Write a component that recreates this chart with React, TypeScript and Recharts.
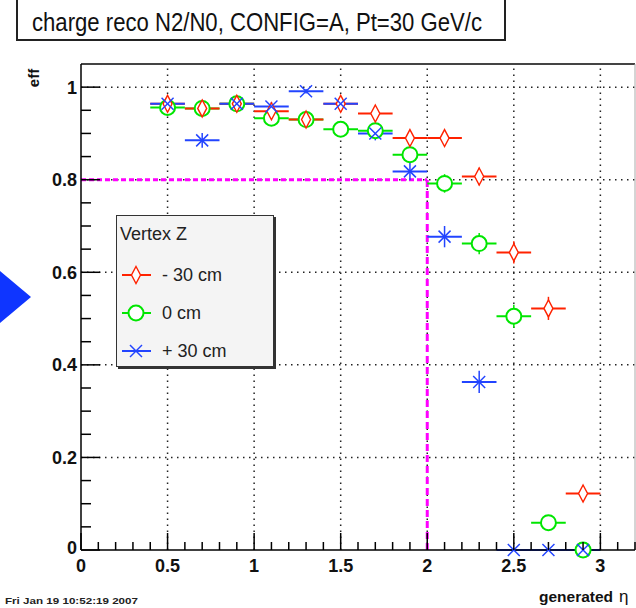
import { ScatterChart, Scatter, XAxis, YAxis, ReferenceLine, ErrorBar, Legend } from "recharts";

// —— bins in generated eta (bin width 0.2)
const etaBins = [0.5, 0.7, 0.9, 1.1, 1.3, 1.5, 1.7, 1.9, 2.1, 2.3, 2.5, 2.7, 2.9];
const binHalfWidth = 0.1;

// efficiency per vertex Z position
const effMinus30 = [0.964, 0.954, 0.964, 0.948, 0.93, 0.964, 0.943, 0.89, 0.89, 0.807, 0.643, 0.522, 0.122];
const errMinus30 = [0.009, 0.01, 0.009, 0.011, 0.012, 0.009, 0.011, 0.015, 0.015, 0.019, 0.024, 0.025, 0.016];
const effZero = [0.956, 0.954, 0.964, 0.933, 0.93, 0.909, 0.906, 0.854, 0.792, 0.662, 0.505, 0.059, 0];
const errZero = [0.01, 0.01, 0.009, 0.012, 0.012, 0.014, 0.014, 0.017, 0.02, 0.023, 0.025, 0.012, 0];
const effPlus30 = [0.964, 0.885, 0.964, 0.958, 0.991, 0.964, 0.9, 0.818, 0.677, 0.363, 0, 0, 0];
const errPlus30 = [0.009, 0.016, 0.009, 0.01, 0.005, 0.009, 0.015, 0.019, 0.023, 0.024, 0, 0, 0];

// axis ticks (ROOT style: majors labelled, minors unlabelled)
const xTicks = [0, 0.1, 0.2, 0.3, 0.4, 0.5, 0.6, 0.7, 0.8, 0.9, 1, 1.1, 1.2, 1.3, 1.4, 1.5, 1.6, 1.7, 1.8, 1.9, 2, 2.1, 2.2, 2.3, 2.4, 2.5, 2.6, 2.7, 2.8, 2.9, 3, 3.1, 3.2];
const xMajorTicks = [0, 0.5, 1, 1.5, 2, 2.5, 3];
const yTicks = [0, 0.05, 0.1, 0.15, 0.2, 0.25, 0.3, 0.35, 0.4, 0.45, 0.5, 0.55, 0.6, 0.65, 0.7, 0.75, 0.8, 0.85, 0.9, 0.95, 1];
const yMajorTicks = [0, 0.2, 0.4, 0.6, 0.8, 1];
const xGrid = [0.5, 1, 1.5, 2, 2.5, 3];
const yGrid = [0.2, 0.4, 0.6, 0.8, 1];

// the 80% / eta=2 cut box
const cutEta = 2;
const cutEff = 0.8;

const RED = "#ff2200";
const GREEN = "#00e600";
const BLUE = "#2244ff";
const MAGENTA = "#ff00ff";
const FONT = "'Liberation Sans', Arial, Helvetica, sans-serif";

const toPoints = (eff: number[], err: number[]) =>
  etaBins.map((x, i) => ({ x, y: eff[i], ex: binHalfWidth, ey: err[i] }));

type MarkerKind = "diamond" | "circle" | "star";

const Marker = ({ kind, cx, cy, color }: { kind: MarkerKind; cx: number; cy: number; color: string }) => {
  if (kind === "diamond") {
    return (
      <path
        d={`M${cx},${cy - 8.5} L${cx + 4.5},${cy} L${cx},${cy + 8.5} L${cx - 4.5},${cy} Z`}
        fill="#fff"
        stroke={color}
        strokeWidth={1.4}
      />
    );
  }
  if (kind === "circle") {
    return <circle cx={cx} cy={cy} r={7.5} fill="#fff" stroke={color} strokeWidth={2} />;
  }
  const h = 6;
  return (
    <g stroke={color} strokeWidth={1.5}>
      <line x1={cx - h} y1={cy - h} x2={cx + h} y2={cy + h} />
      <line x1={cx - h} y1={cy + h} x2={cx + h} y2={cy - h} />
    </g>
  );
};

// draw order: green first so the others stay visible on top
const series = [
  { name: "0 cm", kind: "circle" as MarkerKind, color: GREEN, data: toPoints(effZero, errZero) },
  { name: "- 30 cm", kind: "diamond" as MarkerKind, color: RED, data: toPoints(effMinus30, errMinus30) },
  { name: "+ 30 cm", kind: "star" as MarkerKind, color: BLUE, data: toPoints(effPlus30, errPlus30) },
];
const legendOrder = ["- 30 cm", "0 cm", "+ 30 cm"];

const fmt = (v: number) => (v === 0 ? "0" : v === 1 ? "1" : String(v));

const XTick = (props: any) => {
  const { x, y, payload } = props;
  const major = xMajorTicks.includes(payload.value);
  return (
    <g>
      <line x1={x} y1={y} x2={x} y2={y - (major ? 17 : 8)} stroke="#000" strokeWidth={1.5} />
      {major && (
        <text x={x} y={y + 22} textAnchor="middle" fontFamily={FONT} fontWeight="bold" fontSize={18} fill="#111">
          {fmt(payload.value)}
        </text>
      )}
    </g>
  );
};

const YTick = (props: any) => {
  const { x, y, payload } = props;
  const major = yMajorTicks.includes(payload.value);
  return (
    <g>
      <line x1={x} y1={y} x2={x + (major ? 19 : 10)} y2={y} stroke="#000" strokeWidth={1.5} />
      {major && (
        <text x={x - 4} y={payload.value === 0 ? y + 4 : y + 6.5} textAnchor="end" fontFamily={FONT} fontWeight="bold" fontSize={18} fill="#111">
          {fmt(payload.value)}
        </text>
      )}
    </g>
  );
};

const LegendBox = () => (
  <div
    style={{
      width: 158,
      height: 152,
      boxSizing: "border-box",
      background: "#f4f4f4",
      border: "1.5px solid #333",
      boxShadow: "2px 2px 0 #333",
      fontFamily: FONT,
      fontSize: 18,
      color: "#222",
      padding: "8px 0 0 3px",
    }}
  >
    <div style={{ height: 32 }}>Vertex Z</div>
    {legendOrder.map((name) => {
      const s = series.find((d) => d.name === name)!;
      return (
        <div key={name} style={{ display: "flex", alignItems: "center", height: 38 }}>
          <svg width={32} height={22} style={{ marginRight: 10 }}>
            <line x1={2} y1={11} x2={31} y2={11} stroke={s.color} strokeWidth={2} />
            <Marker kind={s.kind} cx={16} cy={11} color={s.color} />
          </svg>
          <span>{name}</span>
        </div>
      );
    })}
  </div>
);

export default function App() {
  return (
    <div style={{ position: "absolute", left: 0, top: 0, width: 636, height: 608, background: "#fff", overflow: "hidden" }}>
      <ScatterChart width={636} height={608} margin={{ top: 64, right: 1, bottom: 0, left: 0 }}>
        <XAxis
          type="number"
          dataKey="x"
          domain={[0, 3.2]}
          ticks={xTicks}
          interval={0}
          height={58}
          tickSize={0}
          tickMargin={0}
          tickLine={false}
          tick={<XTick />}
          axisLine={{ stroke: "#000", strokeWidth: 1.5 }}
        />
        <YAxis
          type="number"
          dataKey="y"
          domain={[0, 1.05]}
          ticks={yTicks}
          interval={0}
          width={81}
          tickSize={0}
          tickMargin={0}
          tickLine={false}
          tick={<YTick />}
          axisLine={{ stroke: "#000", strokeWidth: 1.5 }}
        />
        {xGrid.map((v) => (
          <ReferenceLine key={`gx${v}`} x={v} stroke="#222" strokeWidth={1.5} strokeDasharray="1.5 4.5" />
        ))}
        {yGrid.map((v) => (
          <ReferenceLine key={`gy${v}`} y={v} stroke="#222" strokeWidth={1.5} strokeDasharray="1.5 4.5" />
        ))}
        <ReferenceLine y={1.05} stroke="#444" strokeWidth={2} />
        <ReferenceLine x={3.2} stroke="#aaa" strokeWidth={1} />
        <ReferenceLine
          segment={[{ x: 0, y: cutEff }, { x: cutEta, y: cutEff }]}
          stroke={MAGENTA}
          strokeWidth={3}
          strokeDasharray="5 3"
        />
        <ReferenceLine
          segment={[{ x: cutEta, y: 0 }, { x: cutEta, y: cutEff }]}
          stroke={MAGENTA}
          strokeWidth={3}
          strokeDasharray="7 4"
        />
        {series.map((s) => (
          <Scatter
            key={s.name}
            name={s.name}
            data={s.data}
            fill={s.color}
            isAnimationActive={false}
            shape={(p: any) => <Marker kind={s.kind} cx={p.cx} cy={p.cy} color={s.color} />}
          >
            <ErrorBar dataKey="ex" direction="x" width={0} stroke={s.color} strokeWidth={2} />
            <ErrorBar dataKey="ey" direction="y" width={0} stroke={s.color} strokeWidth={1.5} />
          </Scatter>
        ))}
        <Legend
          layout="vertical"
          align="center"
          verticalAlign="middle"
          wrapperStyle={{ position: "absolute", left: 116, top: 215, width: 160, height: 154 }}
          content={() => <LegendBox />}
        />
      </ScatterChart>

      <svg width={636} height={608} style={{ position: "absolute", left: 0, top: 0, pointerEvents: "none" }}>
        <rect x={17} y={-4} width={488} height={44} fill="#fff" stroke="#222" strokeWidth={2} />
        <text x={32} y={31} fontFamily={FONT} fontSize={25} fill="#111" textLength={450} lengthAdjust="spacingAndGlyphs">
          charge reco N2/N0, CONFIG=A, Pt=30 GeV/c
        </text>
        <polygon points="0,271 31,297 0,323" fill="#0f35ff" />
        <text
          transform="translate(39,78) rotate(-90)"
          textAnchor="middle"
          fontFamily={FONT}
          fontWeight="bold"
          fontSize={15}
          fill="#111"
        >
          eff
        </text>
        <text x={539} y={602} fontFamily={FONT} fontWeight="bold" fontSize={15.5} fill="#111">
          generated
        </text>
        <text x={619} y={602} fontFamily={FONT} fontSize={17} fill="#111">
          η
        </text>
        <text x={5} y={604} fontFamily={FONT} fontWeight="bold" fontSize={9} fill="#222" textLength={133} lengthAdjust="spacingAndGlyphs">
          Fri Jan 19 10:52:19 2007
        </text>
      </svg>
    </div>
  );
}
